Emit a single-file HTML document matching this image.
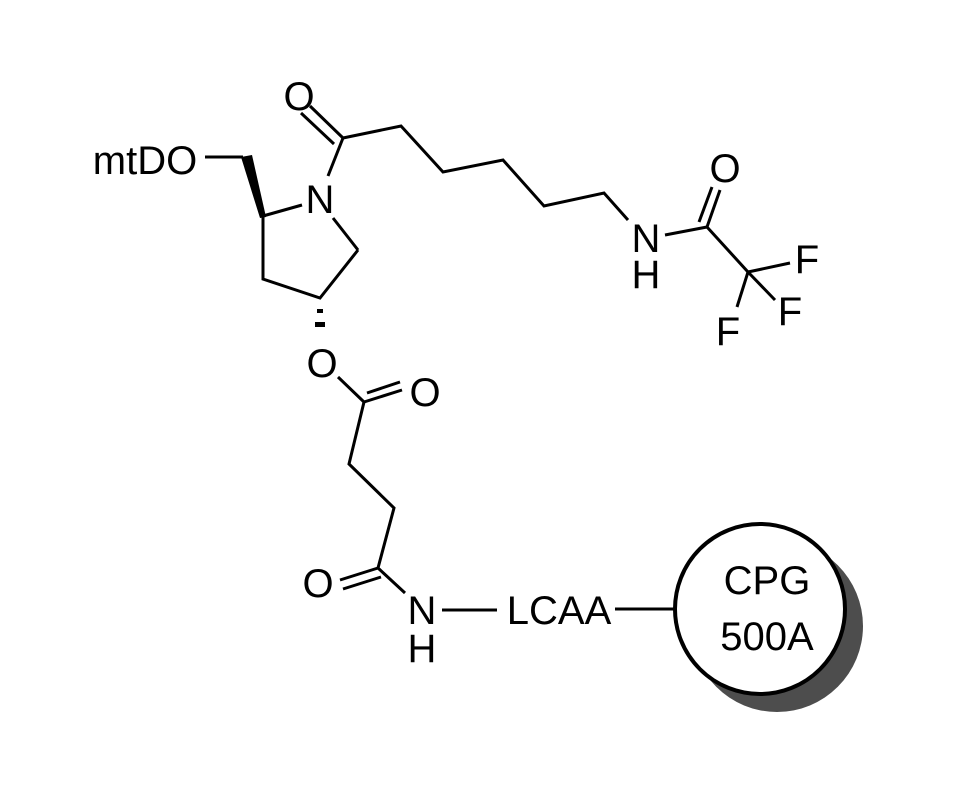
<!DOCTYPE html>
<html><head><style>html,body{margin:0;padding:0;background:#fff}svg{display:block}</style></head><body>
<svg width="960" height="790" viewBox="0 0 960 790" xmlns="http://www.w3.org/2000/svg" font-family="Liberation Sans, Arial, sans-serif" font-size="40">
<g stroke="#000" stroke-width="3" fill="none" stroke-linecap="butt">
<line x1="205" y1="157" x2="243" y2="157"/>
<line x1="263" y1="216" x2="302" y2="205"/>
<line x1="333" y1="218" x2="358" y2="250"/>
<polyline points="358,250 320,298 263,279 263,216"/>
<line x1="328" y1="176" x2="343" y2="138"/>
<line x1="343" y1="138" x2="310" y2="106"/>
<line x1="334" y1="144" x2="301" y2="113"/>
<polyline points="343,138 401,126 443,172 503,160 544,206 604,193 628,220"/>
<line x1="665" y1="235" x2="707" y2="227"/>
<line x1="707" y1="227" x2="720" y2="190"/>
<line x1="699" y1="222" x2="712" y2="187"/>
<line x1="707" y1="227" x2="748" y2="272"/>
<line x1="748" y1="272" x2="790" y2="263"/>
<line x1="748" y1="272" x2="775" y2="300"/>
<line x1="748" y1="272" x2="737" y2="307"/>
<line x1="338" y1="377" x2="364" y2="402"/>
<line x1="364" y1="402" x2="402" y2="390"/>
<line x1="367" y1="393" x2="400" y2="382"/>
<polyline points="364,402 349,464 394,508 378,568 405,593"/>
<line x1="378" y1="568" x2="340" y2="580"/>
<line x1="381" y1="577" x2="343" y2="589"/>
<line x1="442" y1="610" x2="497" y2="610"/>
<line x1="615" y1="609" x2="675" y2="609"/>
</g>
<polygon points="241,157 252,155 266,217 260,218" fill="#000"/>
<rect x="317" y="309" width="6" height="4" fill="#000"/>
<rect x="315" y="322" width="10" height="5" fill="#000"/>
<circle cx="777" cy="626" r="86" fill="#4d4d4d"/>
<circle cx="760" cy="609" r="85" fill="#fff" stroke="#000" stroke-width="4"/>
<g fill="#000" text-anchor="middle">
<text x="145" y="174">mtDO</text>
<text x="320" y="213">N</text>
<text x="299" y="110">O</text>
<text x="646" y="252">N</text>
<text x="646" y="288">H</text>
<text x="725" y="182">O</text>
<text x="807" y="273">F</text>
<text x="790" y="325">F</text>
<text x="728" y="345">F</text>
<text x="322" y="377">O</text>
<text x="425" y="406">O</text>
<text x="318" y="597">O</text>
<text x="422" y="624">N</text>
<text x="422" y="662">H</text>
<text x="559" y="624">LCAA</text>
<text x="767" y="594">CPG</text>
<text x="767" y="650">500A</text>
</g>
</svg>
</body></html>
